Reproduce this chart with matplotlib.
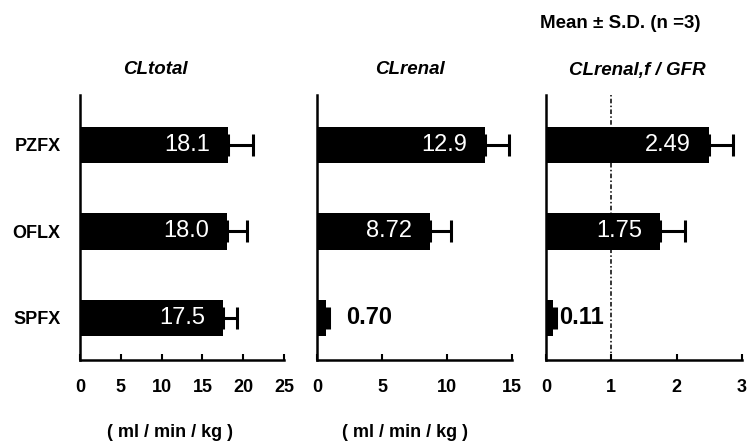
import matplotlib
matplotlib.use("Agg")
import matplotlib.pyplot as plt

plt.rcParams['font.family'] = ['Liberation Sans', 'DejaVu Sans']

drugs = ["PZFX", "OFLX", "SPFX"]
cl_total = [18.1, 18.0, 17.5]
cl_total_sd = [3.1, 2.5, 1.8]
cl_renal = [12.9, 8.72, 0.70]
cl_renal_sd = [1.85, 1.6, 0.25]
cl_ratio = [2.49, 1.75, 0.11]
cl_ratio_sd = [0.37, 0.38, 0.05]
value_labels_total = ["18.1", "18.0", "17.5"]
value_labels_renal = ["12.9", "8.72", "0.70"]
value_labels_ratio = ["2.49", "1.75", "0.11"]

W, H = 748, 448
fig = plt.figure(figsize=(W / 100, H / 100), dpi=100)

ypos = [2, 1, 0]
bottom = 1 - 360 / H
height = (360 - 95) / H

panels = [
    dict(left=80, width=204, vals=cl_total, sd=cl_total_sd, labels=value_labels_total,
         xlim=(0, 25), ticks=[0, 5, 10, 15, 20, 25], title="CLtotal", tx=155),
    dict(left=317, width=195, vals=cl_renal, sd=cl_renal_sd, labels=value_labels_renal,
         xlim=(0, 15), ticks=[0, 5, 10, 15], title="CLrenal", tx=410),
    dict(left=546, width=196, vals=cl_ratio, sd=cl_ratio_sd, labels=value_labels_ratio,
         xlim=(0, 3), ticks=[0, 1, 2, 3], title="CLrenal,f / GFR", tx=637),
]

for i, p in enumerate(panels):
    ax = fig.add_axes([p['left'] / W, bottom, p['width'] / W, height])
    ax.barh(ypos, p['vals'], height=0.42, color='black', zorder=2)
    ax.errorbar(p['vals'], ypos, xerr=[[0] * 3, p['sd']], fmt='none', ecolor='black',
                elinewidth=2.2, capsize=8, capthick=2.2, zorder=3)
    ax.set_xlim(*p['xlim'])
    ax.set_ylim(-0.486, 2.578)
    ax.set_xticks(p['ticks'])
    ax.set_xticklabels([str(t) for t in p['ticks']], fontsize=13, fontweight='bold')
    ax.tick_params(axis='x', direction='in', length=4, width=1.5, pad=14)
    for s in ['top', 'right']:
        ax.spines[s].set_visible(False)
    for s in ['left', 'bottom']:
        ax.spines[s].set_linewidth(1.8)
    if i == 0:
        ax.set_yticks(ypos)
        ax.set_yticklabels(drugs, fontsize=13, fontweight='bold')
        ax.tick_params(axis='y', length=0, pad=14)
    else:
        ax.set_yticks([])
    for v, y, lab in zip(p['vals'], ypos, p['labels']):
        frac = v / p['xlim'][1]
        if frac > 0.2:
            ax.annotate(lab, xy=(v, y), xytext=(-18, 0), textcoords='offset pixels',
                        ha='right', va='center', color='white', fontsize=17, zorder=4)
        else:
            off = 20 if i == 1 else 6
            ax.annotate(lab, xy=(v, y), xytext=(off, 0), textcoords='offset pixels',
                        ha='left', va='center', color='black', fontsize=17,
                        fontweight='bold', zorder=4)
    if i == 2:
        ax.axvline(1, color='black', lw=1.1, linestyle=(0, (3, 1.5, 1, 1.5)), zorder=1)
    fig.text(p['tx'] / W, 1 - 70 / H, p['title'], ha='center', va='center',
             fontsize=13.5, fontweight='bold', fontstyle='italic')

fig.text(700 / W, 1 - 24 / H, "Mean \u00b1 S.D. (n =3)", ha='right', va='center',
         fontsize=13.5, fontweight='bold')
fig.text(170 / W, 1 - 432 / H, "( ml / min / kg )", ha='center', va='center',
         fontsize=13, fontweight='bold')
fig.text(405 / W, 1 - 432 / H, "( ml / min / kg )", ha='center', va='center',
         fontsize=13, fontweight='bold')

fig.savefig("out.png", dpi=100)
